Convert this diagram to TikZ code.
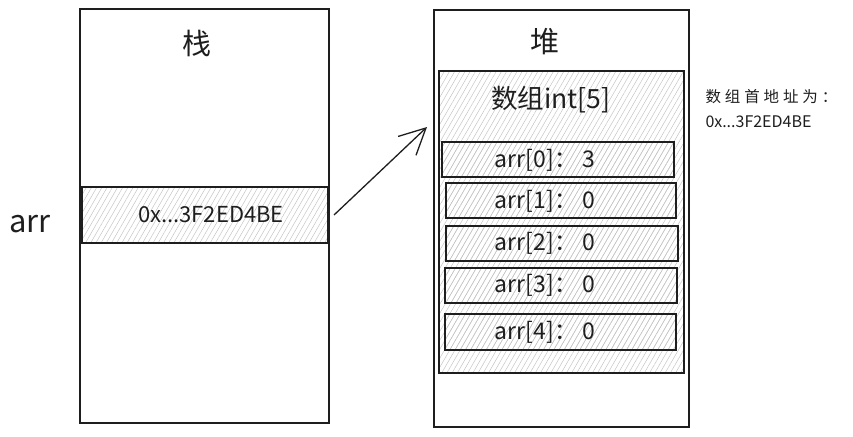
\documentclass[tikz,border=0pt]{standalone}
\usepackage{fontspec}
\setmainfont{Noto Sans CJK SC}
\newfontfamily\spacedcjk[LetterSpace=25]{Noto Sans CJK SC}
\usetikzlibrary{arrows.meta,patterns.meta}
\definecolor{ink}{HTML}{1E1E1E}
\definecolor{hatchgray}{HTML}{C4C4C4}
\begin{document}
\begin{tikzpicture}[x=1pt,y=-1pt,
  box/.style={draw=ink,line width=1.3pt,inner sep=0pt,outer sep=0pt,anchor=north west},
  hatchbox/.style={box,pattern={Lines[angle=60,distance=4.5pt,line width=0.5pt]},pattern color=hatchgray},
  titletext/.style={text=ink,font=\fontsize{29}{33}\selectfont},
  celltext/.style={text=ink,font=\fontsize{23}{27}\selectfont},
  notetext/.style={text=ink,anchor=west,font=\fontsize{15.5}{18}\selectfont},
  conn/.style={draw=ink,line width=1.3pt,-{Straight Barb[length=26pt,width=26pt,line width=1.3pt]}}
]
\useasboundingbox (0,0) rectangle (853,436);
% stack
\node[box,minimum width=249pt,minimum height=414pt] (stack) at (80,9) {};
\node[titletext] (stacktitle) at (197,43) {栈};
\node[hatchbox,minimum width=246pt,minimum height=56pt] (cell) at (82,187) {};
\node[text=ink,font=\fontsize{22}{26}\selectfont] (celltxt) at (211,215) {0x...3F2ED4BE};
\node[text=ink,font=\fontsize{31}{35}\selectfont] (arrlabel) at (30,224) {arr};
% heap
\node[box,minimum width=255pt,minimum height=417pt] (heap) at (434,10) {};
\node[titletext] (heaptitle) at (545,42) {堆};
\node[hatchbox,minimum width=245pt,minimum height=302pt] (array) at (439,71) {};
\node[text=ink,font=\fontsize{26.5}{30}\selectfont] (arraytitle) at (551,100) {数组int[5]};
\node[hatchbox,minimum width=232pt,minimum height=35pt] (c0) at (442,142) {};
\node[hatchbox,minimum width=230pt,minimum height=35pt] (c1) at (446,183) {};
\node[hatchbox,minimum width=232pt,minimum height=35pt] (c2) at (446,226) {};
\node[hatchbox,minimum width=232pt,minimum height=35pt] (c3) at (445,268) {};
\node[hatchbox,minimum width=231pt,minimum height=36pt] (c4) at (445,314) {};
\node[celltext] (t0) at (545,160) {arr[0]：\ 3};
\node[celltext] (t1) at (545,201) {arr[1]：\ 0};
\node[celltext] (t2) at (545,243) {arr[2]：\ 0};
\node[celltext] (t3) at (545,285) {arr[3]：\ 0};
\node[celltext] (t4) at (545,332) {arr[4]：\ 0};
% note
\node[notetext] (note1) at (702,97) {\spacedcjk 数组首地址为：};
\node[text=ink,anchor=west,font=\fontsize{16}{19}\selectfont] (note2) at (702,122) {0x...3F2ED4BE};
% arrow
\coordinate (arrowend) at (427,127);
\draw[conn] ([xshift=6pt]cell.east) -- (arrowend);
\end{tikzpicture}
\end{document}
